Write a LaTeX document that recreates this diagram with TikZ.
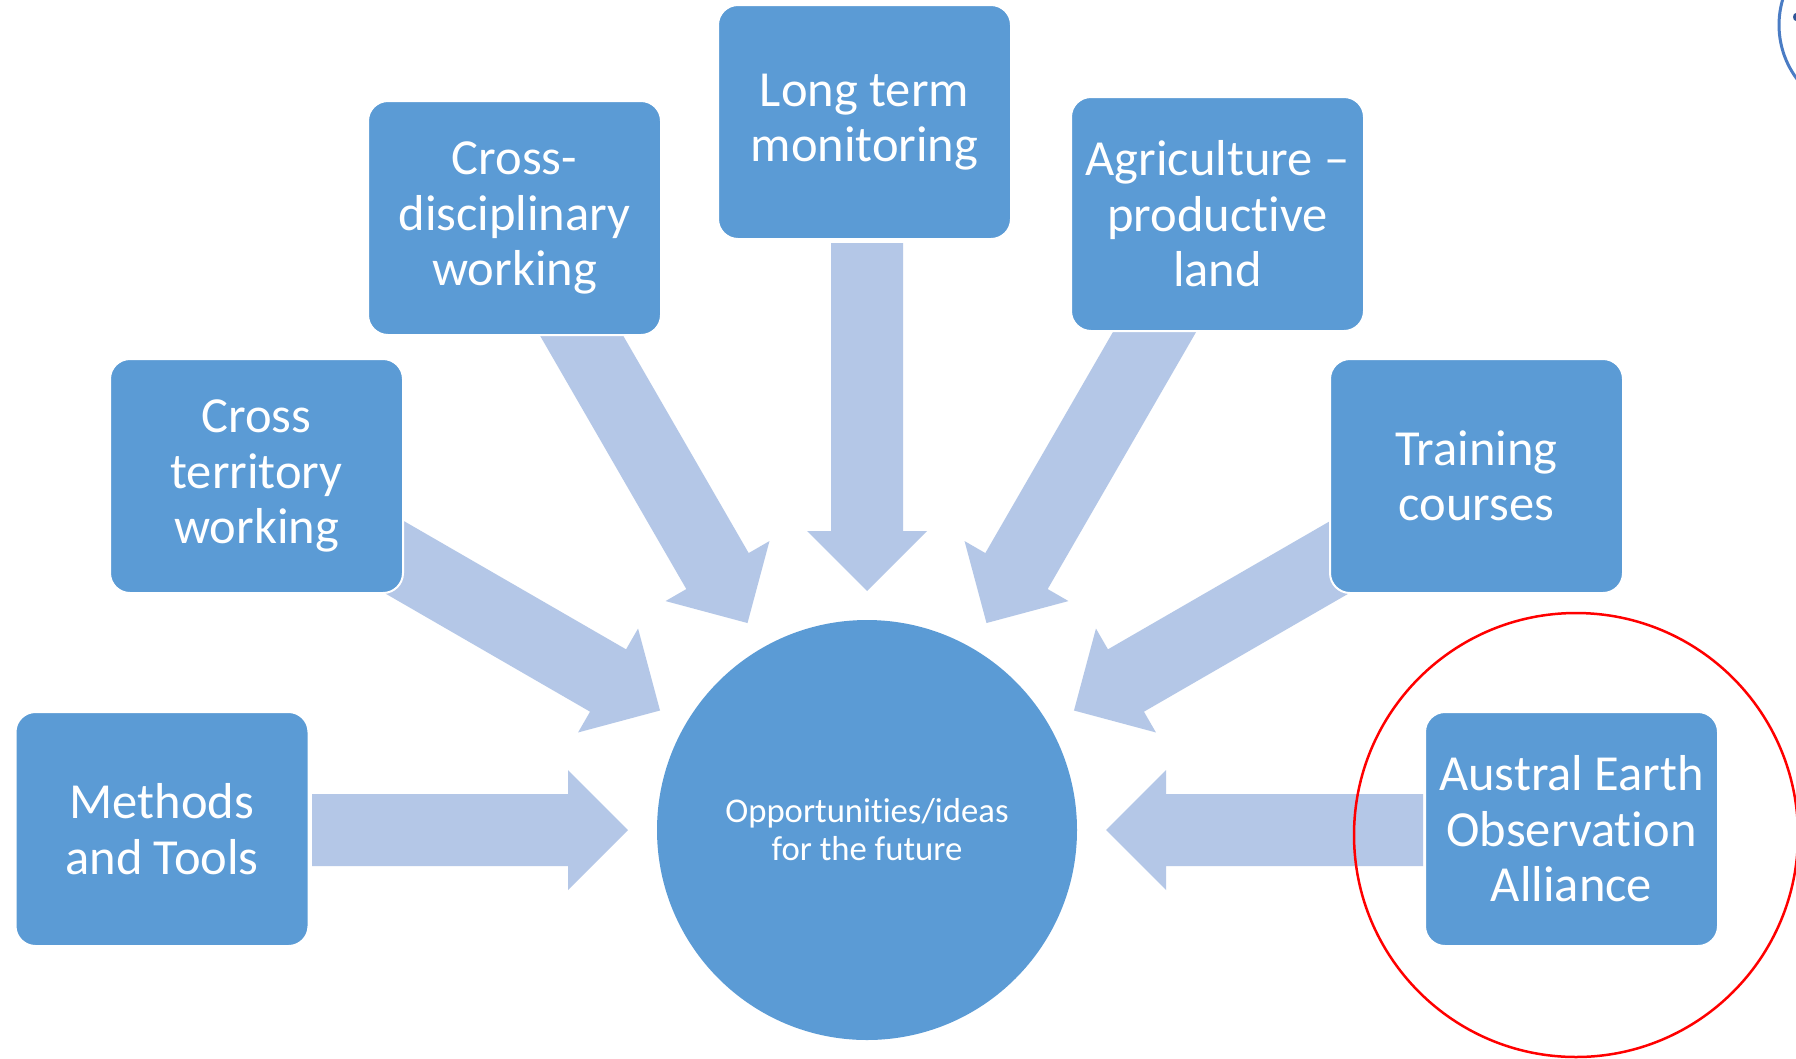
\documentclass[tikz,border=0pt]{standalone}
\usepackage{fontspec}
\setmainfont{Carlito}[Ligatures={NoCommon}]
\usetikzlibrary{calc}
\definecolor{boxblue}{HTML}{5B9BD5}
\definecolor{arrowblue}{HTML}{B4C7E7}
\definecolor{arcblue}{HTML}{4A7CC4}
\definecolor{darkmark}{HTML}{2F5597}
\newcommand{\blockarr}[3]{%
  % #1 base node, #2 angle, #3 tail distance
  \fill[blockarrow]
    ($(#1.center)+(#2:#3)+(#2+90:36)$) --
    ($(#1.center)+(#2:299)+(#2+90:36)$) --
    ($(#1.center)+(#2:299)+(#2+90:60)$) --
    ($(#1.center)+(#2:239)$) --
    ($(#1.center)+(#2:299)+(#2-90:60)$) --
    ($(#1.center)+(#2:299)+(#2-90:36)$) --
    ($(#1.center)+(#2:#3)+(#2-90:36)$) -- cycle;}
\begin{document}
\begin{tikzpicture}[x=1pt,y=-1pt,
  box/.style={rectangle, rounded corners=20pt, fill=boxblue, draw=white, line width=2pt,
    minimum width=293pt, minimum height=234pt, inner sep=0pt, text=white, align=center,
    font=\fontsize{50.5}{55.5}\selectfont},
  hubstyle/.style={circle, fill=boxblue, minimum size=420pt, inner sep=0pt, text=white,
    align=center, font=\fontsize{34.7}{38}\selectfont},
  blockarrow/.style={fill=arrowblue},
  ring/.style={circle, draw=red, line width=2.5pt, minimum size=444pt, inner sep=0pt}]
\useasboundingbox (0,0) rectangle (1796,1058);
\fill[white] (0,0) rectangle (1796,1058);

\node[hubstyle] (hub) at (867,830) {Opportunities/ideas\\for the future};

\blockarr{hub}{180}{555}
\blockarr{hub}{210}{620}
\blockarr{hub}{240}{620}
\blockarr{hub}{270}{587}
\blockarr{hub}{300}{620}
\blockarr{hub}{330}{620}
\blockarr{hub}{0}{556}

\node[box] (methods)   at (162,829)    {Methods\\and Tools};
\node[box] (crossterr) at (256.5,476)  {Cross\\territory\\working};
\node[box] (crossdisc) at (514.5,218)  {Cross-\\disciplinary\\working};
\node[box] (longterm)  at (864.5,122)  {Long term\\monitoring};
\node[box] (agri)      at (1217.5,214) {Agriculture –\\productive\\land};
\node[box] (training)  at (1476.5,476) {Training\\courses};
\node[box] (austral)   at (1571.5,829) {Austral Earth\\Observation\\Alliance};

\begin{scope}
  \clip (0,0) rectangle (1796,1058);
  \node[ring] (highlight) at (1576,835) {};
  \draw[arcblue, line width=3pt] (1869,25) circle[radius=90pt];
  \fill[darkmark] (1796,17) ellipse[x radius=3pt, y radius=4pt];
\end{scope}
\end{tikzpicture}
\end{document}
